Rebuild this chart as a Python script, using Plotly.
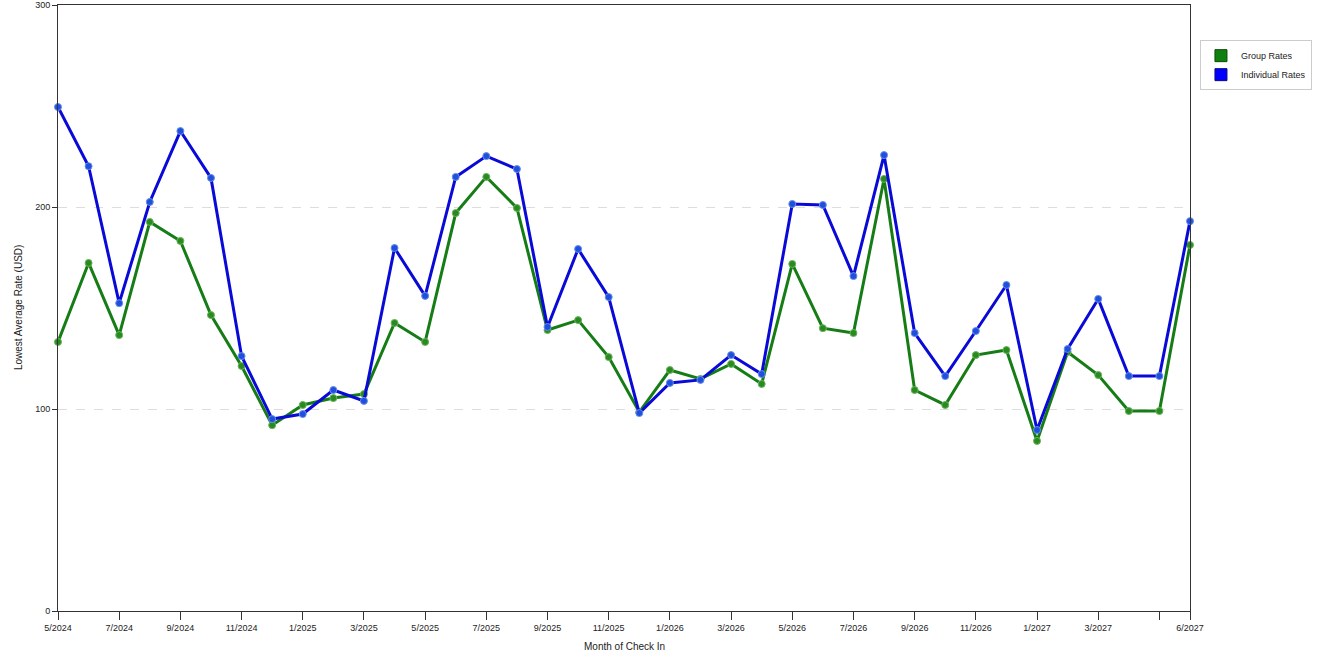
import plotly.graph_objects as go

months = ['5/2024', '6/2024', '7/2024', '8/2024', '9/2024', '10/2024', '11/2024', '12/2024',
          '1/2025', '2/2025', '3/2025', '4/2025', '5/2025', '6/2025', '7/2025', '8/2025',
          '9/2025', '10/2025', '11/2025', '12/2025', '1/2026', '2/2026', '3/2026', '4/2026',
          '5/2026', '6/2026', '7/2026', '8/2026', '9/2026', '10/2026', '11/2026', '12/2026',
          '1/2027', '2/2027', '3/2027', '4/2027', '5/2027', '6/2027']

group_rates = [133.2, 172.3, 136.6, 192.6, 183.2, 146.5, 121.3, 92.0,
               102.0, 105.4, 107.4, 142.6, 133.2, 197.0, 214.9, 199.5,
               139.1, 144.0, 125.7, 98.5, 119.3, 114.9, 122.3, 112.4,
               171.8, 140.0, 137.6, 213.9, 109.4, 102.0, 126.7, 129.2,
               84.2, 128.2, 116.8, 99.0, 99.0, 181.2]

individual_rates = [249.5, 220.2, 152.4, 202.5, 237.6, 214.4, 126.2, 95.0,
                    97.5, 109.4, 104.0, 179.7, 156.0, 214.9, 225.2, 218.8,
                    140.6, 179.2, 155.4, 98.0, 112.9, 114.4, 126.7, 117.3,
                    201.5, 201.0, 165.8, 225.7, 137.6, 116.3, 138.6, 161.4,
                    89.6, 129.7, 154.5, 116.3, 116.3, 193.0]

tick_months = ['5/2024', '7/2024', '9/2024', '11/2024', '1/2025', '3/2025', '5/2025',
               '7/2025', '9/2025', '11/2025', '1/2026', '3/2026', '5/2026', '7/2026',
               '9/2026', '11/2026', '1/2027', '3/2027', '5/2027', '6/2027']
tick_text = [m if m != '5/2027' else '' for m in tick_months]

GREEN = '#167d16'
BLUE = '#0a0ad8'
FONT = 'Liberation Sans'

fig = go.Figure()
fig.add_trace(go.Scatter(x=months, y=group_rates, mode='lines+markers', name='Group Rates',
                         line=dict(color=GREEN, width=3),
                         marker=dict(size=7, color='#2a8a22', line=dict(color='#6ab55a', width=1)),
                         cliponaxis=False, showlegend=False))
fig.add_trace(go.Scatter(x=months, y=individual_rates, mode='lines+markers', name='Individual Rates',
                         line=dict(color=BLUE, width=3),
                         marker=dict(size=7, color='#1f4fdd', line=dict(color='#6a8ee8', width=1)),
                         cliponaxis=False, showlegend=False))

# legend entries with square swatches
fig.add_trace(go.Bar(x=[None], y=[None], name='Group Rates', marker_color='#0f800f',
                     marker_line=dict(color='#0a4a0a', width=1)))
fig.add_trace(go.Bar(x=[None], y=[None], name='Individual Rates', marker_color='#0000ff',
                     marker_line=dict(color='#0a0a80', width=1)))

fig.update_layout(
    width=1320, height=660,
    margin=dict(l=58, r=130, t=5, b=49, autoexpand=False),
    plot_bgcolor='white', paper_bgcolor='white',
    font=dict(family=FONT, size=9, color='#222'),
    legend=dict(x=1.0088, y=0.942, xanchor='left', yanchor='top',
                bordercolor='#cccccc', borderwidth=1, bgcolor='white',
                font=dict(size=9), itemwidth=30),
    annotations=[
        dict(text='Month of Check In', xref='paper', yref='paper', x=0.5, y=-0.0594,
             xanchor='center', yanchor='middle', showarrow=False, font=dict(size=10)),
        dict(text='Lowest Average Rate (USD)', xref='paper', yref='paper', x=-0.0353, y=0.5,
             xanchor='center', yanchor='middle', textangle=-90, showarrow=False,
             font=dict(size=10)),
    ],
)
fig.update_xaxes(type='category', range=[0, len(months) - 1], automargin=False,
                 tickmode='array', tickvals=tick_months, ticktext=tick_text,
                 ticks='outside', ticklen=8, tickcolor='#333', showgrid=False,
                 showline=True, linecolor='#333', linewidth=1, mirror=True,
                 tickfont=dict(size=9))
fig.update_yaxes(range=[0, 300], tickvals=[0, 100, 200, 300], automargin=False,
                 ticks='outside', ticklen=5, tickcolor='#333',
                 showgrid=True, gridcolor='#dddddd', griddash='dash', gridwidth=1,
                 showline=True, linecolor='#333', linewidth=1, mirror=True,
                 zeroline=False, tickfont=dict(size=9))

fig.write_html('out.html', config={'displayModeBar': False},
               post_script="document.body.style.margin='0px';")
